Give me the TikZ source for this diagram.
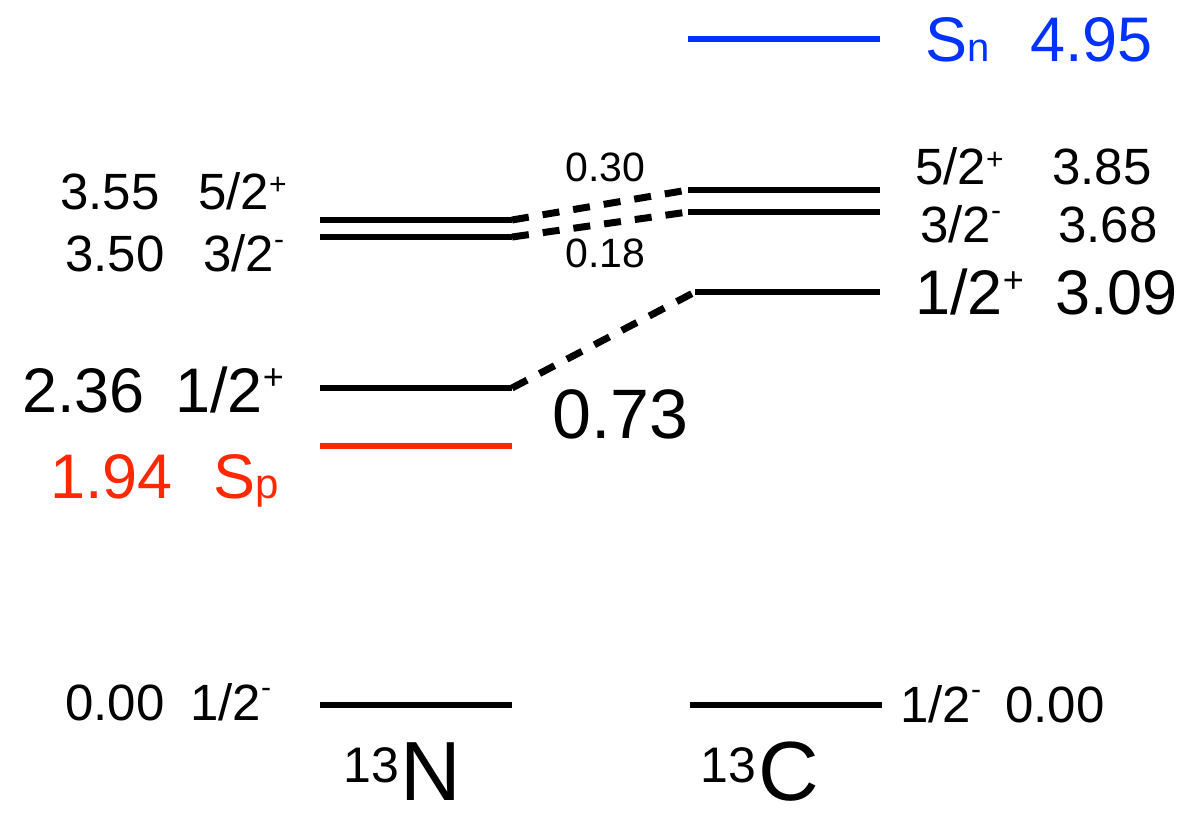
\documentclass[tikz,border=0pt]{standalone}
\usepackage{fontspec}
\setmainfont{Liberation Sans}
\definecolor{spred}{RGB}{255,40,0}
\definecolor{snblue}{RGB}{0,50,255}
\newcommand\fsz[1]{\fontsize{#1}{#1}\selectfont}
\newcommand\psup{\raisebox{0.3em}{\fontsize{30}{30}\selectfont +}}
\newcommand\msup{\raisebox{0.45em}{\fontsize{30}{30}\selectfont -}}
\newcommand\psupL{\raisebox{0.35em}{\fontsize{36}{36}\selectfont +}}
\newcommand\msupL{\raisebox{0.45em}{\fontsize{36}{36}\selectfont -}}
\begin{document}
\begin{tikzpicture}[x=1pt,y=-1pt,
  level/.style={line width=5.5pt},
  trans/.style={line width=7pt, dash pattern=on 17pt off 14pt},
  lbl/.style={inner sep=0pt, anchor=base west},
  small/.style={lbl, font=\fsz{51}},
  mid/.style={lbl, font=\fsz{63}},
  tiny/.style={lbl, font=\fsz{41}},
  big/.style={lbl, font=\fsz{70}},
  huge/.style={lbl, font=\fsz{84}},
]
\useasboundingbox (0,0) rectangle (1192,813);

% 13N levels
\coordinate (Na1) at (320,220); \coordinate (Na2) at (512,220);
\coordinate (Nb1) at (320,237); \coordinate (Nb2) at (512,237);
\coordinate (Nc1) at (320,388); \coordinate (Nc2) at (512,388);
\coordinate (Nsp1) at (320,446); \coordinate (Nsp2) at (512,446);
\coordinate (Ng1) at (320,705); \coordinate (Ng2) at (512,705);
\draw[level] (Na1) -- (Na2);
\draw[level] (Nb1) -- (Nb2);
\draw[level] (Nc1) -- (Nc2);
\draw[level, spred] (Nsp1) -- (Nsp2);
\draw[level] (Ng1) -- (Ng2);

% 13C levels
\coordinate (Csn1) at (688,39); \coordinate (Csn2) at (880,39);
\coordinate (Ca1) at (688,190); \coordinate (Ca2) at (880,190);
\coordinate (Cb1) at (688,212); \coordinate (Cb2) at (880,212);
\coordinate (Cc1) at (695,292); \coordinate (Cc2) at (880,292);
\coordinate (Cg1) at (690,705); \coordinate (Cg2) at (882,705);
\draw[level, snblue] (Csn1) -- (Csn2);
\draw[level] (Ca1) -- (Ca2);
\draw[level] (Cb1) -- (Cb2);
\draw[level] (Cc1) -- (Cc2);
\draw[level] (Cg1) -- (Cg2);

% shifts
\draw[trans] (Na2) -- (Ca1);
\draw[trans] (Nb2) -- (Cb1);
\draw[trans] (Nc2) -- (Cc1);

% left labels
\node[small] (lNa) at (60,210) {3.55};
\node[small] (lNaj) at (198,210) {5/2\psup};
\node[small] (lNb) at (65,272) {3.50};
\node[small] (lNbj) at (203,272) {3/2\msup};
\node[mid] (lNc) at (22,412) {2.36};
\node[mid] (lNcj) at (175,412) {1/2\psupL};
\node[mid, text=spred] (lNsp) at (50,498) {1.94};
\node[mid, text=spred] (lNspj) at (213,498) {S{\fsz{42}p}};
\node[small] (lNg) at (65,720) {0.00};
\node[small] (lNgj) at (190,720) {1/2\msup};

% right labels
\node[mid, text=snblue] (rCsn) at (925,62) {S{\fsz{40}n}};
\node[mid, text=snblue] (rCsnv) at (1030,62) {4.95};
\node[small] (rCaj) at (915,185) {5/2\psup};
\node[small] (rCa) at (1052,185) {3.85};
\node[small] (rCbj) at (920,243) {3/2\msup};
\node[small] (rCb) at (1058,243) {3.68};
\node[mid] (rCcj) at (915,315) {1/2\psupL};
\node[mid] (rCc) at (1055,315) {3.09};
\node[small] (rCgj) at (900,722) {1/2\msup};
\node[small] (rCg) at (1005,722) {0.00};

% shift labels
\node[tiny] (s30) at (565,182) {0.30};
\node[tiny] (s18) at (565,268) {0.18};
\node[big] (s73) at (552,438) {0.73};

% nucleus names
\node[lbl, font=\fsz{50}] (nN13) at (343,782) {13};
\node[huge] (nN) at (400,800) {N};
\node[lbl, font=\fsz{50}] (nC13) at (700,782) {13};
\node[huge] (nC) at (758,800) {C};
\end{tikzpicture}
\end{document}
